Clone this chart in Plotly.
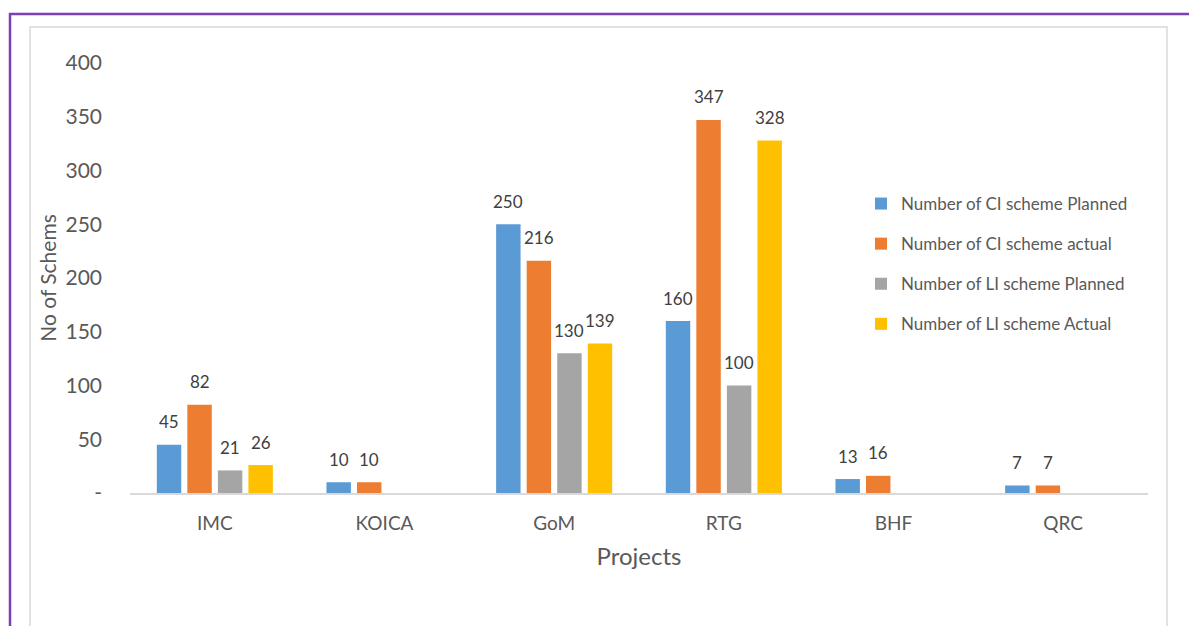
import plotly.graph_objects as go

categories = ["IMC", "KOICA", "GoM", "RTG", "BHF", "QRC"]
ci_planned = [45, 10, 250, 160, 13, 7]
ci_actual = [82, 10, 216, 347, 16, 7]
li_planned = [21, None, 130, 100, None, None]
li_actual = [26, None, 139, 328, None, None]
series_names = ["Number of CI scheme Planned", "Number of CI scheme actual",
                "Number of LI scheme Planned", "Number of LI scheme Actual"]
series_values = [ci_planned, ci_actual, li_planned, li_actual]
colors = ["#5B9BD5", "#ED7D31", "#A5A5A5", "#FFC000"]
y_tickvals = [0, 50, 100, 150, 200, 250, 300, 350, 400]
y_ticktext = ["-", "50", "100", "150", "200", "250", "300", "350", "400"]

W, H = 1189, 626
L, R, T, B = 130, 1148, 63, 493
FONT = "Lato"
BARGAP = 0.28

fig = go.Figure()
for i, (name, vals, col) in enumerate(zip(series_names, series_values, colors)):
    fig.add_trace(go.Bar(
        x=categories, y=vals, name=name, marker_color=col,
        marker_line_width=0, legendgroup=f"g{i}",
    ))

# data labels placed above each grouped bar
cat_w = (R - L) / len(categories)
slot = (1 - BARGAP) * cat_w / len(series_values)
annotations = []
for i, vals in enumerate(series_values):
    xs = (i - (len(series_values) - 1) / 2) * slot
    for c, v in zip(categories, vals):
        if v is None:
            continue
        annotations.append(dict(
            x=c, y=v, xref="x", yref="y", text=str(v), showarrow=False,
            xshift=xs, yshift=23, yanchor="middle", xanchor="center",
            font=dict(family=FONT, size=17, color="#404040")))

def px(x):
    return (x - L) / (R - L)

def py(y):
    return (B - y) / (B - T)

shapes = [
    dict(type="rect", xref="paper", yref="paper", x0=px(30), x1=px(1167), y0=py(700), y1=py(27),
         line=dict(color="#D9D9D9", width=1.5), fillcolor="rgba(0,0,0,0)", layer="below"),
    dict(type="rect", xref="paper", yref="paper", x0=px(10), x1=px(1200), y0=py(700), y1=py(14),
         line=dict(color="#7E3FB5", width=2.5), fillcolor="rgba(0,0,0,0)", layer="below"),
]

fig.update_layout(
    width=W, height=H,
    margin=dict(l=L, r=W - R, t=T, b=H - B, pad=0),
    paper_bgcolor="white", plot_bgcolor="white",
    barmode="group", bargap=BARGAP, bargroupgap=0.2,
    font=dict(family=FONT, color="#595959"),
    shapes=shapes, annotations=annotations,
    showlegend=True,
    legend=dict(x=px(861), y=py(186), xanchor="left", yanchor="top",
                font=dict(family=FONT, size=17, color="#595959"),
                tracegroupgap=15, itemwidth=30, bgcolor="rgba(0,0,0,0)"),
    xaxis=dict(showline=True, linecolor="#D9D9D9", linewidth=1.5, showgrid=False,
               ticks="", tickfont=dict(family=FONT, size=19, color="#595959"),
               ticklabelstandoff=12,
               title=dict(text="Projects", font=dict(family=FONT, size=24, color="#595959"), standoff=16)),
    yaxis=dict(range=[0, 400], showline=False, showgrid=False, zeroline=False,
               tickvals=y_tickvals, ticktext=y_ticktext, ticks="",
               tickfont=dict(family=FONT, size=21, color="#595959"),
               ticklabelstandoff=27,
               title=dict(text="No of Schems", font=dict(family=FONT, size=21, color="#595959"), standoff=3)),
)

fig.write_html("out.html")
